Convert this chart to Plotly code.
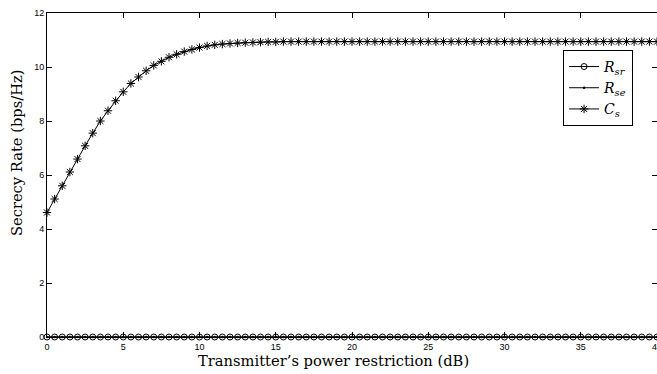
import plotly.graph_objects as go

power_db = [0, 0.5, 1, 1.5, 2, 2.5, 3, 3.5, 4, 4.5, 5, 5.5, 6, 6.5, 7, 7.5, 8, 8.5, 9, 9.5,
            10, 10.5, 11, 11.5, 12, 12.5, 13, 13.5, 14, 14.5, 15, 15.5, 16, 16.5, 17, 17.5, 18, 18.5, 19, 19.5,
            20, 20.5, 21, 21.5, 22, 22.5, 23, 23.5, 24, 24.5, 25, 25.5, 26, 26.5, 27, 27.5, 28, 28.5, 29, 29.5,
            30, 30.5, 31, 31.5, 32, 32.5, 33, 33.5, 34, 34.5, 35, 35.5, 36, 36.5, 37, 37.5, 38, 38.5, 39, 39.5, 40]

r_sr = [0, 0, 0, 0, 0, 0, 0, 0, 0, 0, 0, 0, 0, 0, 0, 0, 0, 0, 0, 0,
        0, 0, 0, 0, 0, 0, 0, 0, 0, 0, 0, 0, 0, 0, 0, 0, 0, 0, 0, 0,
        0, 0, 0, 0, 0, 0, 0, 0, 0, 0, 0, 0, 0, 0, 0, 0, 0, 0, 0, 0,
        0, 0, 0, 0, 0, 0, 0, 0, 0, 0, 0, 0, 0, 0, 0, 0, 0, 0, 0, 0, 0]

r_se = [0, 0, 0, 0, 0, 0, 0, 0, 0, 0, 0, 0, 0, 0, 0, 0, 0, 0, 0, 0,
        0, 0, 0, 0, 0, 0, 0, 0, 0, 0, 0, 0, 0, 0, 0, 0, 0, 0, 0, 0,
        0, 0, 0, 0, 0, 0, 0, 0, 0, 0, 0, 0, 0, 0, 0, 0, 0, 0, 0, 0,
        0, 0, 0, 0, 0, 0, 0, 0, 0, 0, 0, 0, 0, 0, 0, 0, 0, 0, 0, 0, 0]

c_s = [4.61, 5.11, 5.60, 6.11, 6.59, 7.08, 7.55, 8.00, 8.38, 8.75,
       9.08, 9.39, 9.63, 9.86, 10.06, 10.21, 10.36, 10.47, 10.57, 10.65,
       10.72, 10.78, 10.82, 10.85, 10.87, 10.89, 10.90, 10.91, 10.92, 10.93,
       10.93, 10.94, 10.94, 10.94, 10.94, 10.94, 10.94, 10.94, 10.94, 10.94,
       10.94, 10.94, 10.94, 10.94, 10.94, 10.94, 10.94, 10.94, 10.94, 10.94,
       10.94, 10.94, 10.94, 10.94, 10.94, 10.94, 10.94, 10.94, 10.94, 10.94,
       10.94, 10.94, 10.94, 10.94, 10.94, 10.94, 10.94, 10.94, 10.94, 10.94,
       10.94, 10.94, 10.94, 10.94, 10.94, 10.94, 10.94, 10.94, 10.94, 10.94, 10.94]

x_ticks = [0, 5, 10, 15, 20, 25, 30, 35, 40]
y_ticks = [0, 2, 4, 6, 8, 10, 12]

x_title = "Transmitter\u2019s power restriction (dB)"
y_title = "Secrecy Rate (bps/Hz)"

serif = "DejaVu Serif"

fig = go.Figure()
fig.add_trace(go.Scatter(
    x=power_db, y=r_sr, mode="lines+markers", cliponaxis=False,
    name="<i>R</i><sub><i>sr</i></sub>",
    line=dict(color="black", width=1),
    marker=dict(symbol="circle-open", size=6, color="black", line=dict(width=1, color="black")),
))
fig.add_trace(go.Scatter(
    x=power_db, y=r_se, mode="lines+markers", cliponaxis=False,
    name="<i>R</i><sub><i>se</i></sub>",
    line=dict(color="black", width=1),
    marker=dict(symbol="circle", size=2.5, color="black"),
))
fig.add_trace(go.Scatter(
    x=power_db, y=c_s, mode="lines+markers", cliponaxis=False,
    name="<i>C</i><sub><i>s</i></sub>",
    line=dict(color="black", width=1),
    marker=dict(symbol="asterisk-open", size=7, color="black", line=dict(width=1, color="black")),
))

axis_common = dict(
    showline=True, linecolor="black", linewidth=1, mirror="ticks",
    ticks="inside", ticklen=5, tickcolor="black", tickwidth=1,
    showgrid=False, zeroline=False, automargin=False,
    tickfont=dict(family="Liberation Sans", size=9, color="black"),
)

fig.update_layout(
    width=657, height=374,
    margin=dict(l=47, r=0, t=13, b=37, autoexpand=False),
    paper_bgcolor="white", plot_bgcolor="white",
    xaxis=dict(range=[0, 40], tickvals=x_ticks, ticklabelstandoff=1,
               ticklabeloverflow="allow", **axis_common),
    yaxis=dict(range=[0, 12], tickvals=y_ticks, **axis_common),
    showlegend=True,
    legend=dict(
        x=0.846, y=0.886, xanchor="left", yanchor="top",
        bgcolor="white", bordercolor="black", borderwidth=1,
        font=dict(family=serif, size=14, color="black"),
        itemwidth=30, tracegroupgap=0,
    ),
    annotations=[
        dict(text=x_title, xref="paper", yref="paper", x=0.469, y=-0.071,
             xanchor="center", yanchor="middle", showarrow=False,
             font=dict(family=serif, size=14.7, color="black")),
        dict(text=y_title, xref="paper", yref="paper", x=-0.049, y=0.568,
             xanchor="center", yanchor="middle", showarrow=False, textangle=-90,
             font=dict(family=serif, size=14.7, color="black")),
    ],
)

fig.write_html("out.html")
